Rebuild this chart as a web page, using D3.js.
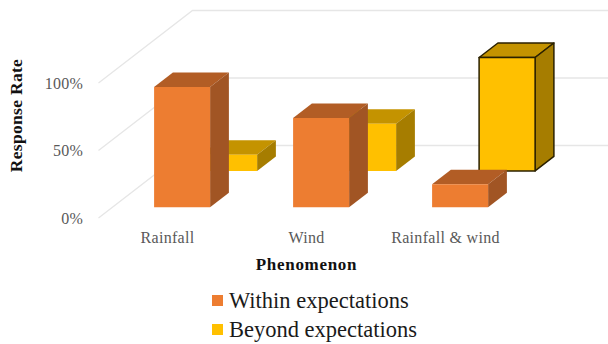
<!DOCTYPE html>
<html>
<head>
<meta charset="utf-8">
<script src="https://cdn.jsdelivr.net/npm/d3@7/dist/d3.min.js"></script>
<style>
html,body{margin:0;padding:0;background:#fff;overflow:hidden}
text{font-family:"Liberation Serif",serif}
</style>
</head>
<body>
<svg id="chart" width="608" height="344"></svg>
<script>
// Chart data
const categories = ["Rainfall", "Wind", "Rainfall & wind"];
const withinValues = [89, 66, 17];
const beyondValues = [12, 35, 84];
const tickValues = [0, 50, 100];
const seriesNames = ["Within expectations", "Beyond expectations"];

const svg = d3.select("#chart");

// Front plane of the 3D box, plus the depth vector of its floor
const x = d3.scaleBand().domain(categories).range([98.5, 515.5]).paddingInner(0);
const y = d3.scaleLinear().domain([0, 100]).range([218, 83]);
const depth = d3.scaleLinear().domain([0, 1]);
const dx = depth.copy().range([0, 94]);
const dy = depth.copy().range([0, -72.5]);
const barWidth = 56;
const barDepth = 0.2;
const rows = [
  {name: seriesNames[0], values: withinValues, z: 0.15, front: "#ed7d31", top: "#b25d25", side: "#a15524", stroke: "none"},
  {name: seriesNames[1], values: beyondValues, z: 0.65, front: "#ffc000", top: "#c49300", side: "#a67d00", stroke: "none"}
];
const strokedBar = {series: seriesNames[1], category: categories[2]};

// Grid lines: left wall running back, then along the rear wall
const gridColor = "#e6e6e6";
const grid = svg.append("g").attr("fill", "none").attr("stroke", gridColor).attr("stroke-width", 1.3);
grid.selectAll("path").data(tickValues).join("path")
  .attr("d", t => d3.line()([
    [x.range()[0], y(t)],
    [x.range()[0] + dx(1), y(t) + dy(1)],
    [608, y(t) + dy(1)]
  ]));

// Value axis labels
const axis = svg.append("g")
  .attr("transform", "translate(86,0)")
  .call(d3.axisLeft(y).tickValues(tickValues).tickSize(0).tickPadding(3).tickFormat(d => d + "%"));
axis.select(".domain").remove();
axis.selectAll("text").attr("font-size", 16).attr("font-family", "Liberation Serif").attr("fill", "#595959").style("letter-spacing", "0.2px");

// Cuboids, rear series first so the front row overlaps it
const poly = pts => d3.line()(pts) + "Z";
[rows[1], rows[0]].forEach(row => {
  const g = svg.append("g");
  categories.forEach((c, i) => {
    const offset = (x.bandwidth() - barWidth) / 2;
    const x0 = x(c) + offset + dx(row.z);
    const x1 = x0 + barWidth;
    const yBase = y(0) + dy(row.z);
    const yTop = y(row.values[i]) + dy(row.z);
    const ox = dx(barDepth), oy = dy(barDepth);
    const marked = strokedBar.series === row.name && strokedBar.category === c;
    const faces = [
      {fill: row.top, pts: [[x0, yTop], [x1, yTop], [x1 + ox, yTop + oy], [x0 + ox, yTop + oy]]},
      {fill: row.side, pts: [[x1, yTop], [x1 + ox, yTop + oy], [x1 + ox, yBase + oy], [x1, yBase]]},
      {fill: row.front, pts: [[x0, yTop], [x1, yTop], [x1, yBase], [x0, yBase]]}
    ];
    g.append("g").selectAll("path").data(faces).join("path")
      .attr("d", d => poly(d.pts))
      .attr("fill", d => d.fill)
      .attr("stroke", marked ? "#2b2100" : "none")
      .attr("stroke-width", marked ? 1.5 : 0)
      .attr("stroke-linejoin", "round");
  });
});

// Category labels
svg.append("g").selectAll("text").data(categories).join("text")
  .attr("x", d => x(d) + x.bandwidth() / 2 - 0.5)
  .attr("y", 242.5)
  .attr("text-anchor", "middle")
  .attr("font-size", 16)
  .attr("fill", "#595959")
  .style("letter-spacing", "0.3px")
  .text(d => d);

// Axis titles
svg.append("text")
  .attr("x", 306.5).attr("y", 270)
  .attr("text-anchor", "middle")
  .attr("font-size", 17).attr("font-weight", "bold").attr("fill", "#111")
  .style("letter-spacing", "0.7px")
  .text("Phenomenon");
svg.append("text")
  .attr("transform", "translate(22,115.5) rotate(-90)")
  .attr("text-anchor", "middle")
  .attr("font-size", 17.5).attr("font-weight", "bold").attr("fill", "#111")
  .style("letter-spacing", "0.3px")
  .text("Response Rate");

// Legend
const legend = svg.append("g").selectAll("g").data(rows).join("g")
  .attr("transform", (d, i) => `translate(212,${301 + i * 29})`);
legend.append("rect")
  .attr("x", 0).attr("y", -6).attr("width", 11).attr("height", 11)
  .attr("fill", d => d.front);
legend.append("text")
  .attr("x", 17).attr("y", 6.5)
  .attr("font-size", 22.5).attr("fill", "#1a1a1a")
  .text(d => d.name);
</script>
</body>
</html>
